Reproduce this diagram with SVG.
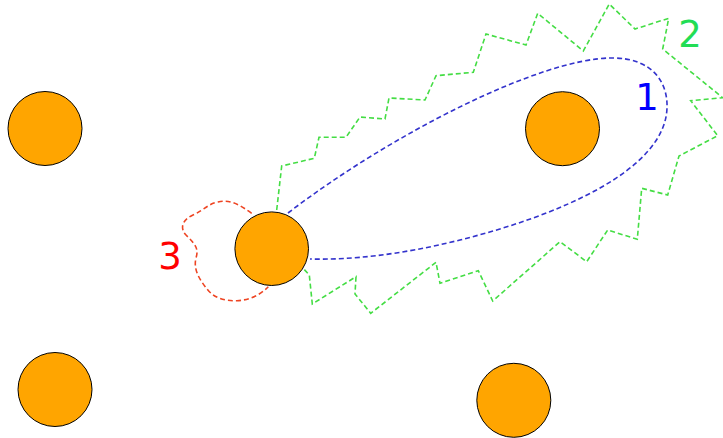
<svg xmlns="http://www.w3.org/2000/svg" width="723" height="438" viewBox="0 0 723 438">
<style>
.node{fill:#ffa500;stroke:#000;stroke-width:1}
.lbl{font-family:"DejaVu Sans",Verdana,sans-serif;font-size:37px}
.c{fill:none;stroke-width:1.6;stroke-dasharray:5,3}
</style>
<rect width="723" height="438" fill="#fff"/>
<g id="connectors">
<path class="c" stroke="#44dd44" d="M276.7,210 L281.7,166 L314.3,158.3 L319,137.3 L346,137.3 L360,117 L385,119 L389,98 L425,100 L436,75.7 L473.3,72.3 L486,34 L526,45 L537.7,13.3 L583.3,51 L609.3,4 L635,29 L668.7,18.3 L662.7,49 L722.7,97.7 L690.7,100.7 L717.7,135.7 L679,156 L667.7,195 L641.7,188.3 L637.3,239.3 L607.7,230 L586.7,261.7 L560,241.7 L492.7,301 L478.3,270.7 L440,283.3 L436,262.3 L370.7,313.3 L355,294 L356,276.7 L312.3,304 L309.3,275 L301.7,266.7"/>
<path class="c" stroke="#3333cc" d="M288,213 C390,135 540,58 612,58 C655,58 668,85 667,108 C665,170 560,215 460,240 C400,255 350,260 310,259"/>
<path class="c" stroke="#ee4422" d="M251.7,213.3 C240,205 230,199 218,202 C208,204 204,210 193,215 C180,221 181,230 186,235 C195,244 199,248 196,258 C193,270 200,280 207,289 C214,298 224,301 237,300.7 C250,300 260,295 268.3,286.7"/>
</g>
<g id="n1"><circle class="node" cx="45" cy="128.5" r="37"/></g>
<g id="n2"><circle class="node" cx="562.5" cy="128.7" r="37"/></g>
<g id="n3"><circle class="node" cx="271.7" cy="248.7" r="36.8"/></g>
<g id="n4"><circle class="node" cx="55" cy="389.5" r="37"/></g>
<g id="n5"><circle class="node" cx="513.8" cy="400.3" r="37"/></g>
<g id="labels">
<text class="lbl" x="647" y="110" text-anchor="middle" fill="#0000ff">1</text>
<text class="lbl" x="690" y="47" text-anchor="middle" fill="#22dd55">2</text>
<text class="lbl" x="170" y="269" text-anchor="middle" fill="#ff0000">3</text>
</g>
</svg>
